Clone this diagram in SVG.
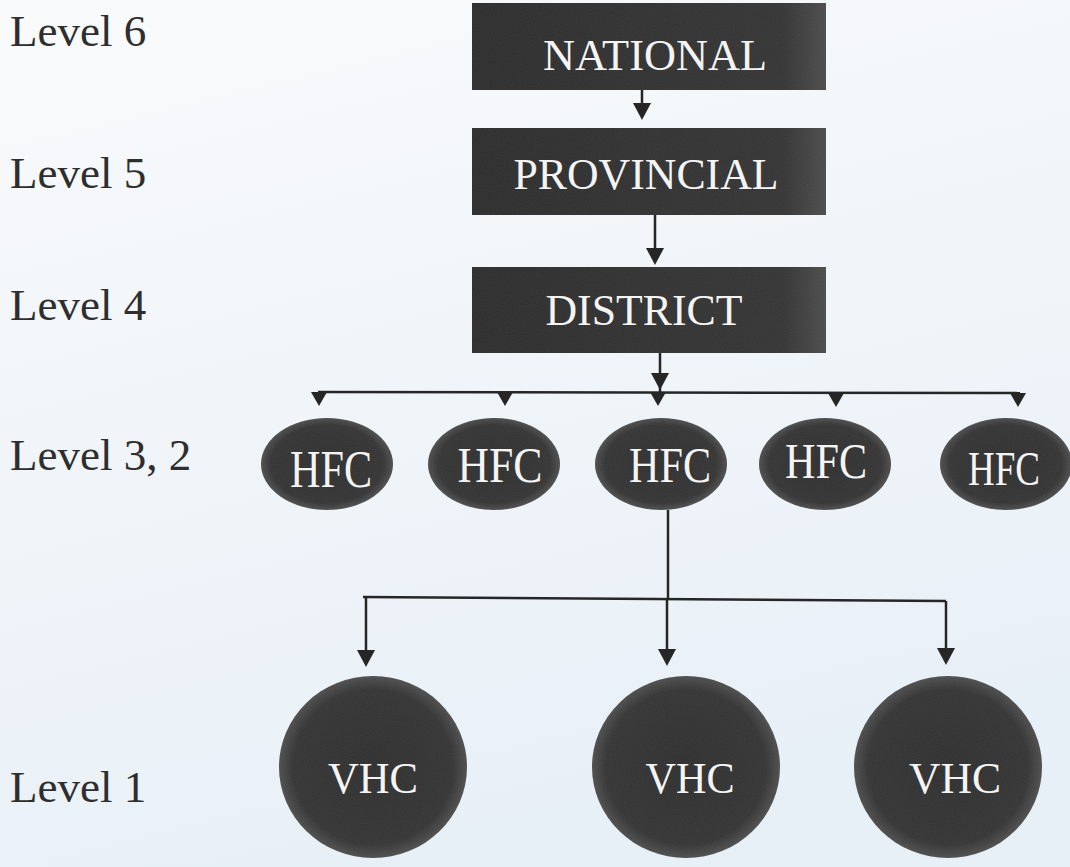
<svg xmlns="http://www.w3.org/2000/svg" width="1070" height="867" viewBox="0 0 1070 867">
<defs>
<linearGradient id="bg" x1="0" y1="0" x2="0.3" y2="1">
<stop offset="0" stop-color="#f9fafb"/>
<stop offset="1" stop-color="#e8f0f7"/>
</linearGradient>
<linearGradient id="boxfill" x1="0" y1="0" x2="1" y2="0">
<stop offset="0" stop-color="#2a2b2a"/>
<stop offset="0.88" stop-color="#323332"/>
<stop offset="1" stop-color="#4a4b4a"/>
</linearGradient>
<radialGradient id="ellfill" cx="0.5" cy="0.5" r="0.5">
<stop offset="0" stop-color="#2c2d2c"/>
<stop offset="0.85" stop-color="#323332"/>
<stop offset="1" stop-color="#4c4d4c"/>
</radialGradient>
<filter id="noise" x="0" y="0" width="100%" height="100%" color-interpolation-filters="sRGB">
<feTurbulence type="fractalNoise" baseFrequency="0.9" numOctaves="1" seed="3" result="t"/>
<feColorMatrix in="t" type="matrix" values="0 0 0 0 0.7  0 0 0 0 0.7  0 0 0 0 0.7  0 0 0 0.12 0" result="n"/>
<feComposite in="n" in2="SourceGraphic" operator="in" result="nn"/>
<feMerge><feMergeNode in="SourceGraphic"/><feMergeNode in="nn"/></feMerge>
</filter>
</defs>
<style>
.lvl{font-family:"Liberation Serif","Times New Roman",serif;font-size:45px;fill:#2e2e2e;}
.box{fill:url(#boxfill);filter:url(#noise);}
.ell{fill:url(#ellfill);filter:url(#noise);}
.lab{font-family:"Liberation Serif","Times New Roman",serif;fill:#f4f4f4;text-anchor:middle;}
.c{stroke:#262626;stroke-width:2.5;fill:none;}
.h{fill:#262626;}
</style>
<rect x="0" y="0" width="1070" height="867" fill="url(#bg)"/>

<g id="levels">
<text class="lvl" x="10" y="46">Level 6</text>
<text class="lvl" x="10" y="188">Level 5</text>
<text class="lvl" x="10" y="320">Level 4</text>
<text class="lvl" x="10" y="470">Level 3, 2</text>
<text class="lvl" x="10" y="802">Level 1</text>
</g>

<g id="connectors">
<line class="c" x1="642" y1="90" x2="642" y2="106"/>
<path class="h" d="M633,103 L651,103 L642,120 Z"/>
<line class="c" x1="655" y1="215" x2="655" y2="251"/>
<path class="h" d="M646,248 L664,248 L655,265 Z"/>
<line class="c" x1="660" y1="353" x2="660" y2="392"/>
<path class="h" d="M651,373 L669,373 L660,390 Z"/>
<line class="c" x1="318" y1="392" x2="1020" y2="393"/>
<path class="h" d="M311,392 L327,392 L319,406 Z"/>
<path class="h" d="M497,392 L513,392 L505,406 Z"/>
<path class="h" d="M650,392 L666,392 L658,406 Z"/>
<path class="h" d="M828,393 L844,393 L836,407 Z"/>
<path class="h" d="M1010,393 L1026,393 L1018,407 Z"/>
<line class="c" x1="668" y1="510" x2="668" y2="598"/>
<line class="c" x1="363" y1="597" x2="946" y2="601"/>
<line class="c" x1="366" y1="597" x2="366" y2="652"/>
<path class="h" d="M357,650 L375,650 L366,667 Z"/>
<line class="c" x1="667" y1="599" x2="667" y2="651"/>
<path class="h" d="M658,649 L676,649 L667,666 Z"/>
<line class="c" x1="946" y1="601" x2="946" y2="650"/>
<path class="h" d="M937,648 L955,648 L946,665 Z"/>
</g>

<g id="national">
<rect class="box" x="472" y="3" width="354" height="87"/>
<text class="lab" x="655" y="70" font-size="45" textLength="224" lengthAdjust="spacingAndGlyphs">NATIONAL</text>
</g>
<g id="provincial">
<rect class="box" x="472" y="128" width="354" height="87"/>
<text class="lab" x="646" y="189" font-size="45" textLength="265" lengthAdjust="spacingAndGlyphs">PROVINCIAL</text>
</g>
<g id="district">
<rect class="box" x="472" y="267" width="354" height="86"/>
<text class="lab" x="644" y="325" font-size="45" textLength="197" lengthAdjust="spacingAndGlyphs">DISTRICT</text>
</g>

<g id="hfc1">
<ellipse class="ell" cx="327" cy="464" rx="66" ry="46"/>
<text class="lab" x="331" y="487" font-size="52" textLength="82" lengthAdjust="spacingAndGlyphs">HFC</text>
</g>
<g id="hfc2">
<ellipse class="ell" cx="494" cy="464" rx="66" ry="46"/>
<text class="lab" x="500" y="482" font-size="50" textLength="85" lengthAdjust="spacingAndGlyphs">HFC</text>
</g>
<g id="hfc3">
<ellipse class="ell" cx="661" cy="464" rx="66" ry="46"/>
<text class="lab" x="670" y="482" font-size="50" textLength="82" lengthAdjust="spacingAndGlyphs">HFC</text>
</g>
<g id="hfc4">
<ellipse class="ell" cx="825" cy="464" rx="66" ry="46"/>
<text class="lab" x="826" y="478" font-size="50" textLength="82" lengthAdjust="spacingAndGlyphs">HFC</text>
</g>
<g id="hfc5">
<ellipse class="ell" cx="1006" cy="464" rx="66" ry="46"/>
<text class="lab" x="1004" y="485" font-size="48" textLength="72" lengthAdjust="spacingAndGlyphs">HFC</text>
</g>

<g id="vhc1">
<ellipse class="ell" cx="373" cy="767" rx="94" ry="91"/>
<text class="lab" x="373" y="793" font-size="45" textLength="90" lengthAdjust="spacingAndGlyphs">VHC</text>
</g>
<g id="vhc2">
<ellipse class="ell" cx="686" cy="767" rx="94" ry="91"/>
<text class="lab" x="690" y="793" font-size="45" textLength="89" lengthAdjust="spacingAndGlyphs">VHC</text>
</g>
<g id="vhc3">
<ellipse class="ell" cx="948" cy="767" rx="94" ry="91"/>
<text class="lab" x="955" y="793" font-size="45" textLength="92" lengthAdjust="spacingAndGlyphs">VHC</text>
</g>
</svg>
